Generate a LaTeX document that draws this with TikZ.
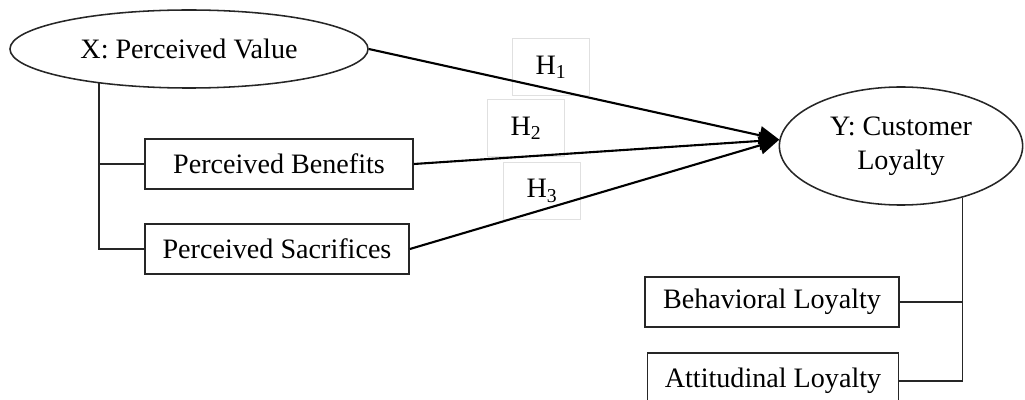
\documentclass[tikz,border=0pt]{standalone}
\usepackage{fontspec}
\setmainfont{Liberation Serif}
\usetikzlibrary{arrows.meta,shapes.geometric}
\begin{document}
\begin{tikzpicture}[x=0.025cm,y=-0.025cm,font=\fontsize{20}{24}\selectfont]
	\tikzstyle{latent}=[ellipse,draw=black!85,line width=1.1pt,inner sep=0pt]
	\tikzstyle{dimbox}=[rectangle,draw=black!85,line width=1.2pt,inner sep=0pt,minimum height=1.25cm]
	\tikzstyle{hlabel}=[rectangle,draw=black!12,line width=0.6pt,minimum width=1.93cm,minimum height=1.42cm,inner sep=0pt]
	\tikzstyle{hyppath}=[line width=1.5pt,-{Triangle[length=0.5cm,width=0.45cm]}]
	\tikzstyle{branch}=[draw=black!85,line width=1.2pt]
	\clip (0,0) rectangle (1025,400);
	% hypothesis labels
	\node[hlabel] (H-one) at (551,67) {H\textsubscript{1}};
	\node[hlabel] (H-two) at (526,128) {H\textsubscript{2}};
	\node[hlabel] (H-three) at (542,191) {H\textsubscript{3}};
	% X side
	\node[latent,minimum width=8.95cm,minimum height=1.95cm] (X-value) at (189,49) {X: Perceived Value};
	\node[dimbox,minimum width=6.7cm] (X-benefit) at (279,164) {Perceived Benefits};
	\node[dimbox,minimum width=6.6cm] (X-sacrifice) at (277,249) {Perceived Sacrifices};
	% Y side
	\node[latent,minimum width=6.08cm,minimum height=2.95cm,align=center] (Y-loyalty) at (901,146) {Y: Customer\\Loyalty};
	\node[dimbox,minimum width=6.35cm] (Y-behavior) at (772,302) {Behavioral Loyalty};
	\node[dimbox,minimum width=6.28cm,minimum height=1.4cm] (Y-attitude) at (773,381) {Attitudinal Loyalty};
	\draw[branch] (X-value.201) |- (X-sacrifice.west);
	\draw[branch] (X-value.201 |- X-benefit.west) -- (X-benefit.west);
	\draw[branch] (Y-loyalty.320) |- (Y-attitude.east);
	\draw[branch] (Y-behavior.east) -- (Y-loyalty.320 |- Y-behavior.east);
	\draw[hyppath] (X-value.east) -- (Y-loyalty.177);
	\draw[hyppath] (X-benefit.east) -- (Y-loyalty.177);
	\draw[hyppath] (X-sacrifice.east) -- (Y-loyalty.177);
\end{tikzpicture}
\end{document}
